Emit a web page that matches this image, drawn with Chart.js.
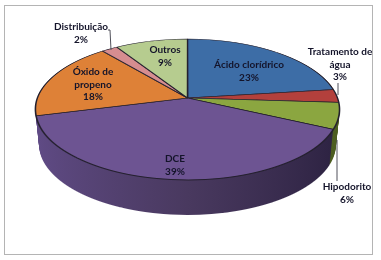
<!DOCTYPE html>
<html>
<head>
<meta charset="utf-8">
<script src="https://cdn.jsdelivr.net/npm/chart.js@4"></script>
<style>
    html, body { margin: 0; padding: 0; background: #fff; }
    #frame { position: absolute; left: 4px; top: 5px; width: 367px; height: 248px; border: 1.5px solid #b4b4b4; }
    #pieChart { position: absolute; left: 0; top: 0; filter: blur(0.45px); }
</style>
</head>
<body>
<div id="frame"></div>
<canvas id="pieChart" width="381" height="260"></canvas>

<script>
    // Data
    const categories = ['Ácido clorídrico', ['Tratamento de', 'água'], 'Hipodorito', 'DCE', ['Óxido de', 'propeno'], 'Distribuição', 'Outros'];
    const shares = [23, 3, 6, 39, 18, 2, 9];
    const sliceColors = ['#3d6da6', '#b3403c', '#8ba640', '#6d5492', '#de8137', '#d68d90', '#b6cc8f'];
    // the orange slice has no visible wall in the picture, so it takes the purple one
    const wallColors = ['#2d4f78', '#7c2c2a', '#4e5f22', null, null, '#9a6567', '#83945f'];

    // Label anchors: centre x and first line y of each label
    const labelX = [249, 340, 347, 175, 93, 81, 165];
    const labelY = [65, 52, 187, 159, 72, 27, 50];
    const lineGap = 12.5;
    const leaders = [
        [[108, 30], [110, 30], [111, 50]],
        [[338, 83], [338, 95]],
        [[337, 140], [337, 181]]
    ];

    // Perspective of the tilted disc: apex on screen, half width, and foreshortening
    const apexX = 187.5, apexY = 98;
    const spanX = 150, spanY = 52.6, tilt = 0.163;
    const depth = 35, wallShrink = 0.024;

    // Draws the arcs row by row so the round pie lands on the tilted plane
    function drawProjected(ctx, chart, fromRow, toRow, shift, widthScale, restyle) {
        const arcs = chart.getDatasetMeta(0).data;
        const R = arcs[0].outerRadius, cx = arcs[0].x, cy = arcs[0].y;
        for (let row = fromRow; row < toRow; row++) {
            const y = row + 0.5 - shift;
            const v = (y - apexY) / (spanY + tilt * y);
            if (v < -1.02 || v > 1.02) continue;
            const w = 1 / (1 - tilt * v);
            const sx = spanX * widthScale * w / R;
            const sy = (spanY + tilt * y) * w / R;
            ctx.save();
            ctx.beginPath();
            ctx.rect(0, row, chart.width, 1);
            ctx.clip();
            ctx.setTransform(sx, 0, 0, sy, apexX - sx * cx, y + shift - sy * (cy + R * v));
            arcs.forEach((arc, i) => {
                if (restyle) {
                    const saved = arc.options;
                    arc.options = Object.assign({}, saved, restyle(i, R, cx));
                    arc.draw(ctx);
                    arc.options = saved;
                } else {
                    arc.draw(ctx);
                }
            });
            ctx.restore();
        }
    }

    const tiltedPie = {
        id: 'tiltedPie',
        beforeDatasetsDraw(chart) {
            const ctx = chart.ctx;
            let wallFill = null;
            const wallStyle = (i, R, cx) => {
                if (!wallFill) {
                    wallFill = ctx.createLinearGradient(cx - R, 0, cx + R, 0);
                    wallFill.addColorStop(0, '#604b86');
                    wallFill.addColorStop(0.5, '#49395f');
                    wallFill.addColorStop(1, '#2b2140');
                }
                return { backgroundColor: wallColors[i] || wallFill, borderWidth: 0 };
            };
            // side wall, stacked from the bottom up
            for (let d = depth; d >= 1; d--) {
                drawProjected(ctx, chart, 100 + d, 182 + d, d, 1 - wallShrink * d / depth, wallStyle);
            }
            // top face
            drawProjected(ctx, chart, 35, 185, 0, 1, null);
            return false;
        },
        afterDraw(chart) {
            const ctx = chart.ctx;
            ctx.save();
            ctx.strokeStyle = '#50505a';
            ctx.lineWidth = 1;
            leaders.forEach(pts => {
                ctx.beginPath();
                pts.forEach((p, i) => i ? ctx.lineTo(p[0], p[1]) : ctx.moveTo(p[0], p[1]));
                ctx.stroke();
            });
            ctx.fillStyle = '#14142a';
            ctx.font = 'bold 10px Lato';
            ctx.textAlign = 'center';
            ctx.textBaseline = 'middle';
            categories.forEach((name, i) => {
                const lines = [].concat(name, shares[i] + '%');
                lines.forEach((text, n) => ctx.fillText(text, labelX[i], labelY[i] + n * lineGap));
            });
            ctx.restore();
        }
    };

    new Chart(document.getElementById('pieChart').getContext('2d'), {
        type: 'pie',
        data: {
            labels: categories,
            datasets: [{
                data: shares,
                backgroundColor: sliceColors,
                borderColor: '#24202e',
                borderWidth: 1.3
            }]
        },
        options: {
            responsive: false,
            animation: false,
            plugins: { legend: { display: false }, tooltip: { enabled: false } }
        },
        plugins: [tiltedPie]
    });
</script>
</body>
</html>
